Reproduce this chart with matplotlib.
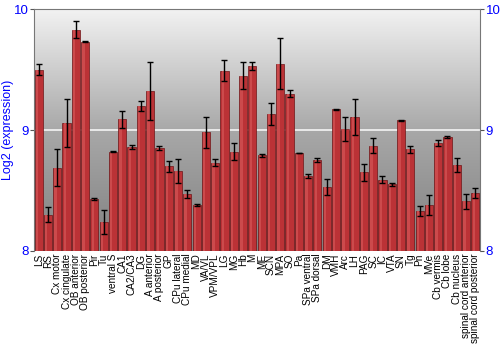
import matplotlib
matplotlib.use("Agg")
import matplotlib.pyplot as plt
import numpy as np

plt.rcParams["font.family"] = ["Liberation Sans", "DejaVu Sans"]

regions = ["LS", "RS", "Cx motor", "Cx cingulate", "OB anterior", "OB posterior",
           "Pir", "Tu", "ventral S", "CA1", "CA2/CA3", "DG", "A anterior",
           "A posterior", "GP", "CPu lateral", "CPu medial", "MD", "VA/VL",
           "VPM/VPL", "LG", "MG", "Hb", "M", "ME", "SCN", "MPA", "SO", "Pa",
           "SPa ventral", "SPa dorsal", "DM", "VMH", "Arc", "LH", "PAG", "SC",
           "IC", "VTA", "SN", "Tg", "Pn", "MVe", "Cb vermis", "Cb lobe",
           "Cb nucleus", "spinal cord anterior", "spinal cord posterior"]

expression = [9.50, 8.30, 8.69, 9.06, 9.83, 9.73, 8.43, 8.24, 8.82, 9.09,
              8.86, 9.20, 9.32, 8.85, 8.70, 8.66, 8.47, 8.38, 8.98, 8.73,
              9.49, 8.82, 9.45, 9.53, 8.79, 9.13, 9.55, 9.30, 8.81, 8.62,
              8.75, 8.53, 9.17, 9.01, 9.11, 8.65, 8.87, 8.59, 8.55, 9.08,
              8.84, 8.33, 8.38, 8.89, 8.94, 8.71, 8.41, 8.48]

errors = [0.045, 0.06, 0.15, 0.20, 0.07, 0.004, 0.01, 0.10, 0.004, 0.07,
          0.015, 0.04, 0.24, 0.015, 0.047, 0.10, 0.03, 0.006, 0.13, 0.03,
          0.085, 0.07, 0.11, 0.03, 0.015, 0.09, 0.21, 0.03, 0.004, 0.02,
          0.015, 0.065, 0.006, 0.10, 0.15, 0.07, 0.06, 0.03, 0.01, 0.004,
          0.03, 0.04, 0.08, 0.025, 0.01, 0.06, 0.065, 0.04]

blue = "#0000ff"

fig = plt.figure(figsize=(5, 3.5), dpi=100)
ax = fig.add_axes([0.068, 0.283, 0.892, 0.691])

x = np.arange(len(regions))
ax.set_xlim(-0.5, len(regions) - 0.5)
ax.set_ylim(8, 10)

# grey gradient background
grad = np.linspace(0, 1, 256).reshape(-1, 1)
ax.imshow(grad, cmap=matplotlib.colors.LinearSegmentedColormap.from_list(
    "bg", ["#808080", "#a8a8a8", "#f2f2f2"]),
    extent=[-0.5, len(regions) - 0.5, 8, 10], aspect="auto", origin="lower",
    zorder=0)
ax.axhline(9, color="#f4f4f4", lw=1.2, zorder=1)

ax.bar(x, np.array(expression) - 8, bottom=8, width=0.88, color="#bb3236",
       edgecolor="#6e1416", linewidth=0.5, zorder=2)
ax.bar(x - 0.18, np.array(expression) - 8, bottom=8, width=0.25,
       color="#cc4a4c", linewidth=0, zorder=2)
ax.errorbar(x, expression, yerr=errors, fmt="none", ecolor="black",
            elinewidth=1, capsize=2.2, capthick=1, zorder=3)

ax.set_yticks([8, 9, 10])
ax.set_yticklabels(["8", "9", "10"])
ax.tick_params(axis="y", colors="#555555", labelcolor=blue, labelsize=9.5,
               length=3, pad=1, left=True, right=True, labelleft=True,
               labelright=True)
ax.set_xticks(x)
ax.set_xticklabels(regions, rotation=90, fontsize=7.2)
ax.tick_params(axis="x", length=0, pad=2)
fig.text(0.017, 0.629, "Log2 (expression)", color=blue, fontsize=9,
         rotation=90, ha="center", va="center")

for s in ["left", "right", "top"]:
    ax.spines[s].set_color("#777777")
ax.spines["bottom"].set_visible(False)

fig.savefig("out.png", dpi=100)
